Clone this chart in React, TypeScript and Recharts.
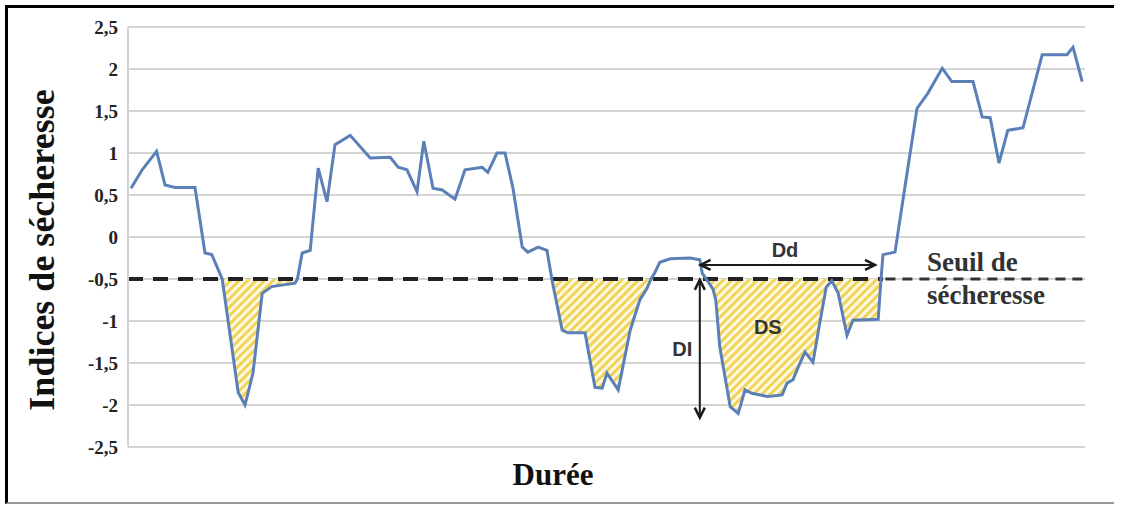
import React from 'react';
import { ComposedChart, Line, Area, XAxis, YAxis, CartesianGrid, ReferenceLine, ReferenceDot } from 'recharts';

// durée (pas de temps) et indice de sécheresse
const duree = [
  0, 1.4, 3.2, 4.25, 5.5, 8, 9.25, 10.1, 11.4, 13.4, 14.25, 15.25, 16.4, 17.6, 20.5, 20.8, 21.4, 22.4,
  23.4, 24.5, 25.5, 27.4, 29.9, 32.4, 33.4, 34.5, 35.75, 36.6, 37.75, 38.9, 40.5, 41.75, 43.9, 44.6,
  45.75, 46.75, 47.75, 48.9, 49.6, 50.9, 52, 52.6, 53.9, 54.6, 56.75, 58, 58.9, 59.5, 60.9, 62.4,
  63.6, 64.5, 65, 65.5, 66.1, 67.4, 69.9, 71.1, 71.4, 71.9, 72.75, 73.1, 73.6, 74.9, 75.9, 76.75,
  77.6, 79.6, 81.4, 82, 82.75, 83.4, 84.25, 85.25, 86.1, 86.9, 87.6, 88.4, 89.5, 90.25, 93.4, 93.75,
  94, 95.5, 96.75, 98.25, 99.6, 101.4, 102.6, 105.25, 106.4, 107.4, 108.5, 109.6, 111.5, 113.9, 117,
  117.75, 118.9,
];
const indice = [
  0.58, 0.8, 1.02, 0.62, 0.59, 0.59, -0.19, -0.21, -0.5, -1.85, -2.0, -1.62, -0.67, -0.59, -0.55, -0.5, -0.19, -0.16,
  0.82, 0.42, 1.1, 1.21, 0.94, 0.95, 0.83, 0.8, 0.54, 1.14, 0.58, 0.56, 0.45, 0.8, 0.83, 0.77,
  1.0, 1.0, 0.58, -0.12, -0.18, -0.12, -0.16, -0.5, -1.11, -1.14, -1.14, -1.79, -1.8, -1.62, -1.82, -1.11,
  -0.75, -0.61, -0.5, -0.42, -0.3, -0.26, -0.25, -0.27, -0.43, -0.5, -0.62, -0.75, -1.31, -2.02, -2.1, -1.82,
  -1.86, -1.9, -1.88, -1.74, -1.7, -1.55, -1.37, -1.49, -1.02, -0.6, -0.52, -0.67, -1.17, -0.99, -0.98, -0.5,
  -0.21, -0.18, 0.6, 1.53, 1.71, 2.01, 1.85, 1.85, 1.43, 1.42, 0.88, 1.27, 1.3, 2.17, 2.17,
  2.26, 1.85,
];
const yTicks = [-2.5, -2, -1.5, -1, -0.5, 0, 0.5, 1, 1.5, 2, 2.5];
const seuil = -0.5;

const data = duree.map((t, i) => ({ t, v: indice[i] }));

const serif = '"Liberation Serif", "Times New Roman", serif';
const sans = '"Liberation Sans", Arial, sans-serif';

const Arrow = (props: any) => {
  const { x1, y1, x2, y2 } = props;
  const ang = Math.atan2(y2 - y1, x2 - x1);
  const head = (x: number, y: number, a: number) => {
    const s = 10;
    const w = 5;
    const bx = x - s * Math.cos(a);
    const by = y - s * Math.sin(a);
    const px = -Math.sin(a) * w;
    const py = Math.cos(a) * w;
    return `M${bx + px},${by + py} L${x},${y} L${bx - px},${by - py}`;
  };
  return (
    <g>
      <line x1={x1} y1={y1} x2={x2} y2={y2} stroke="#1a1a1a" strokeWidth={2} />
      <path d={head(x2, y2, ang)} fill="none" stroke="#1a1a1a" strokeWidth={2.5} />
      <path d={head(x1, y1, ang + Math.PI)} fill="none" stroke="#1a1a1a" strokeWidth={2.5} />
    </g>
  );
};

const txt = (label: string, size: number, family: string, anchor: string = 'middle') => (p: any) => (
  <text x={p.cx} y={p.cy} textAnchor={anchor} dominantBaseline="central" fontFamily={family}
    fontWeight="bold" fontSize={size} fill="#333">
    {label}
  </text>
);

const App = () => {
  return (
    <div style={{ position: 'absolute', left: 0, top: 0, width: 1129, height: 506, background: '#fff' }}>
      <svg width={0} height={0} style={{ position: 'absolute' }}>
        <defs>
          <pattern id="hatch" width={6} height={6} patternUnits="userSpaceOnUse" patternTransform="rotate(45)">
            <rect width={6} height={6} fill="#fdf8e0" />
            <rect width={3} height={6} fill="#f2d35a" />
          </pattern>
        </defs>
      </svg>
      <div style={{ position: 'absolute', left: 5, top: 5, width: 1106, height: 494, borderTop: '3px solid #000', borderLeft: '3px solid #000', borderBottom: '2px solid #999' }} />
      <div style={{ position: 'absolute', left: 0, top: 0 }}>
        <ComposedChart width={1129} height={506} data={data} margin={{ top: 27, right: 44, bottom: 59, left: 0 }}>
          <CartesianGrid vertical={false} stroke="#d4d4d4" strokeWidth={2} />
          <XAxis type="number" dataKey="t" domain={[-0.375, 119.25]} hide allowDataOverflow />
          <YAxis
            width={128}
            domain={[-2.5, 2.5]}
            ticks={yTicks}
            interval={0}
            tickSize={0}
            tickMargin={10}
            tickLine={false}
            axisLine={{ stroke: '#d4d4d4', strokeWidth: 2 }}
            tickFormatter={(v: number) => String(v).replace('.', ',')}
            tick={{ fill: '#222', fontSize: 19, fontFamily: serif, fontWeight: 'bold' }}
          />
          <Area
            type="linear"
            dataKey={(d: any) => [Math.min(d.v, seuil), seuil]}
            stroke="none"
            fill="url(#hatch)"
            fillOpacity={1}
            isAnimationActive={false}
            activeDot={false}
          />
          <ReferenceLine
            segment={[{ x: -0.375, y: seuil }, { x: 94, y: seuil }]}
            stroke="#222"
            strokeWidth={4}
            strokeDasharray="15 10"
          />
          <ReferenceLine
            segment={[{ x: 94.3, y: seuil }, { x: 119.25, y: seuil }]}
            stroke="#333"
            strokeWidth={3}
            strokeDasharray="10 7"
          />
          <Line
            type="linear"
            dataKey="v"
            stroke="#5b80b8"
            strokeWidth={3}
            dot={false}
            activeDot={false}
            isAnimationActive={false}
          />
          <ReferenceLine segment={[{ x: 71.2, y: -0.333 }, { x: 93, y: -0.333 }]} shape={Arrow} />
          <ReferenceLine segment={[{ x: 71.1, y: -0.51 }, { x: 71.1, y: -2.15 }]} shape={Arrow} />
          <ReferenceDot x={81.75} y={-0.155} r={0} shape={txt('Dd', 20, sans)} />
          <ReferenceDot x={79.6} y={-1.07} r={0} shape={txt('DS', 20, sans)} />
          <ReferenceDot x={68.9} y={-1.33} r={0} shape={txt('DI', 20, sans)} />
          <ReferenceDot x={99.5} y={-0.3} r={0} shape={txt('Seuil de', 27, serif, 'start')} />
          <ReferenceDot x={99.5} y={-0.69} r={0} shape={txt('sécheresse', 27, serif, 'start')} />
        </ComposedChart>
      </div>
      <div style={{ position: 'absolute', left: 42, top: 250, transform: 'translate(-50%, -50%) rotate(-90deg)', whiteSpace: 'nowrap', fontFamily: serif, fontWeight: 'bold', fontSize: 36, color: '#111', lineHeight: 1 }}>
        Indices de sécheresse
      </div>
      <div style={{ position: 'absolute', left: 553, top: 474, transform: 'translate(-50%, -50%)', whiteSpace: 'nowrap', fontFamily: serif, fontWeight: 'bold', fontSize: 31, color: '#111', lineHeight: 1 }}>
        Durée
      </div>
    </div>
  );
};

export default App;
